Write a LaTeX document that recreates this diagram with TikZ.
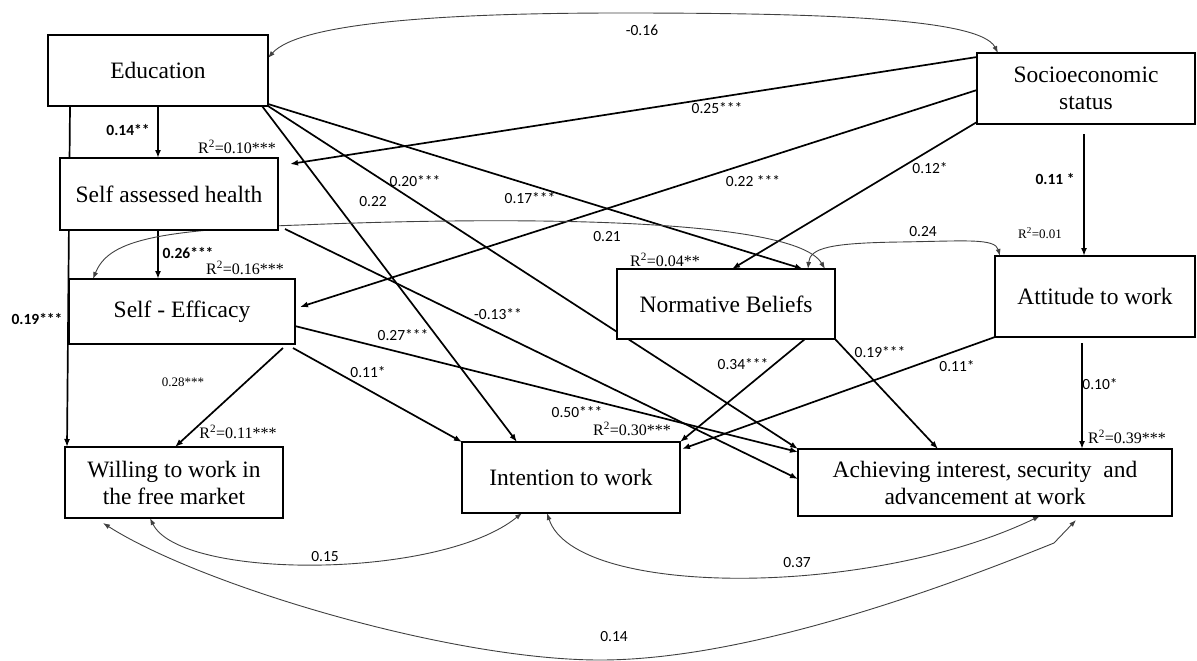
\documentclass[tikz,border=0pt]{standalone}
\usepackage{fontspec}
\setmainfont{Liberation Serif}
\newfontfamily\lblfont{Carlito}
\usetikzlibrary{arrows.meta,calc}
\pgfdeclarelayer{bg}
\pgfsetlayers{bg,main}
\begin{document}
\begin{tikzpicture}[x=1pt,y=-1pt,
  box/.style={draw,line width=1.8pt,fill=white,inner sep=0pt,outer sep=0pt,align=center,font=\fontsize{23.5}{27}\selectfont},
  arr/.style={line width=1.7pt,-{Latex[length=8pt,width=6pt]}},
  corr/.style={line width=0.9pt,draw=black!75,{Latex[length=7pt,width=5pt]}-{Latex[length=7pt,width=5pt]}},
  lbl/.style={font=\lblfont\fontsize{15.5}{18}\selectfont,inner sep=0pt},
  lblb/.style={font=\lblfont\bfseries\fontsize{15.5}{18}\selectfont,inner sep=0pt},
  rsq/.style={font=\fontsize{16}{18}\selectfont,inner sep=0pt},
  rsqs/.style={font=\fontsize{13}{15}\selectfont,inner sep=0pt}]
\useasboundingbox (0,0) rectangle (1197,661);
% boxes
\node[box,minimum width=220pt,minimum height=71pt] (edu) at (158,70.5) {Education};
\node[box,minimum width=218pt,minimum height=71pt] (ses) at (1086,88.5) {Socioeconomic\\status};
\node[box,minimum width=218pt,minimum height=72pt] (sah) at (169,194) {Self assessed health};
\node[box,minimum width=226pt,minimum height=65pt] (se) at (182,311.5) {Self - Efficacy};
\node[box,minimum width=218pt,minimum height=70pt] (nb) at (726,304) {Normative Beliefs};
\node[box,minimum width=200pt,minimum height=81pt] (att) at (1095,296.5) {Attitude to work};
\node[box,minimum width=218pt,minimum height=71pt] (will) at (174,482.5) {Willing to work in\\the free market};
\node[box,minimum width=218pt,minimum height=71pt] (int) at (571,477.5) {Intention to work};
\node[box,minimum width=374pt,minimum height=67pt] (ach) at (985,482.5) {Achieving interest, security\ \ and\\advancement at work};
\coordinate (s1) at ([xshift=-2pt]ses.south);
\coordinate (s2) at ([xshift=-11pt]sah.south);
\coordinate (s3) at ([xshift=-13pt,yshift=-6pt]att.south);
\begin{pgfonlayer}{bg}
\draw[arr] (edu.south) -- (edu.south |- sah.north);
\draw[arr] ([xshift=-88pt]edu.south) -- ([xshift=-107pt]will.north);
\draw[arr] ([xshift=104pt]edu.south) -- ([xshift=-54pt]int.north);
\draw[arr] (edu.south east) -- (ach.north west);
\draw[arr] ([yshift=2pt]edu.south east) -- ([xshift=77pt]nb.north);
\draw[arr] ([yshift=31.5pt]ses.west) -- ([xshift=12pt,yshift=30pt]sah.east);
\draw[arr] ([yshift=-1.5pt]ses.west) -- ([xshift=5pt,yshift=4.5pt]se.east);
\draw[arr] ([yshift=2pt]ses.south west) -- ([xshift=6pt]nb.north);
\draw[arr] ([yshift=-10pt]s1) -- (s1 |- att.north);
\draw[arr] (s2) -- (s2 |- se.north);
\draw[arr] ([xshift=7pt,yshift=1pt]sah.south east) -- ([yshift=3.5pt]ach.west);
\draw[arr] ([xshift=-12pt,yshift=-4pt]se.south east) -- ([xshift=1pt]will.north);
\draw[arr] ([xshift=-2pt,yshift=-4pt]se.south east) -- (int.north west);
\draw[arr] ([yshift=-14.5pt]se.east) -- ([yshift=-3pt]ach.north west);
\draw[arr] ([xshift=79pt]nb.south) -- (int.north east);
\draw[arr] (nb.south east) -- ([xshift=-47pt]ach.north);
\draw[arr] (att.south west) -- ([xshift=2pt,yshift=-7pt]int.north east);
\draw[arr] (s3) -- (s3 |- ach.north);
% correlations
\draw[corr] ([yshift=12.5pt]edu.east) .. controls (300,22) and (450,13) .. (620,13) .. controls (820,13) and (980,18) .. ([xshift=-88pt]ses.north);
\draw[corr] ([xshift=-89pt]se.north) .. controls (108,242) and (150,230) .. (300,225) .. controls (520,216) and (795,218) .. ([xshift=99pt]nb.north);
\draw[corr] ([xshift=82pt]nb.north) .. controls (810,248) and (830,243) .. (900,242) .. controls (965,241) and (995,238) .. ([xshift=5pt]att.north west);
\draw[corr] ([xshift=-24pt]will.south) .. controls (180,580) and (440,580) .. ([xshift=-49pt]int.south);
\draw[corr] ([xshift=-24pt]int.south) .. controls (575,598) and (870,598) .. ([xshift=55pt]ach.south);
\draw[corr] ([xshift=-71pt,yshift=-5pt]will.south) .. controls (200,585) and (450,660) .. (600,660) .. controls (750,660) and (950,585) .. (1054,543) -- ([xshift=91pt,yshift=-4pt]ach.south);
\end{pgfonlayer}
% labels
\node[lbl] (l1) at (642,30) {-0.16};
\node[lbl] (l2) at (717,108) {0.25***};
\node[lblb] (l3) at (128,130) {0.14**};
\node[rsq] (l4) at (237,147) {R\textsuperscript{2}=0.10***};
\node[lbl] (l5) at (415,181) {0.20***};
\node[lbl] (l6) at (373,202) {0.22};
\node[lbl] (l7) at (530,198) {0.17***};
\node[lbl] (l8) at (753,181) {0.22 ***};
\node[lbl] (l9) at (930,168) {0.12*};
\node[lblb] (l10) at (1055,179) {0.11 *};
\node[lbl] (l11) at (607,237) {0.21};
\node[lbl] (l12) at (923,232) {0.24};
\node[rsqs] (l13) at (1040,233) {R\textsuperscript{2}=0.01};
\node[lblb] (l14) at (188,253) {0.26***};
\node[rsq] (l15) at (245,268) {R\textsuperscript{2}=0.16***};
\node[rsq] (l16) at (665,260) {R\textsuperscript{2}=0.04**};
\node[lblb] (l17) at (37,319) {0.19***};
\node[lbl] (l18) at (498,314) {-0.13**};
\node[lbl] (l19) at (403,335) {0.27***};
\node[lbl] (l20) at (743,364) {0.34***};
\node[lbl] (l21) at (880,352) {0.19***};
\node[lbl] (l22) at (957,366) {0.11*};
\node[rsqs] (l23) at (183,382) {0.28***};
\node[lbl] (l24) at (368,372) {0.11*};
\node[lbl] (l25) at (1100,384) {0.10*};
\node[lbl] (l26) at (577,412) {0.50***};
\node[rsq] (l27) at (632,429) {R\textsuperscript{2}=0.30***};
\node[rsq] (l28) at (238,432) {R\textsuperscript{2}=0.11***};
\node[rsq] (l29) at (1127,437) {R\textsuperscript{2}=0.39***};
\node[lbl] (l30) at (325,557) {0.15};
\node[lbl] (l31) at (797,563) {0.37};
\node[lbl] (l32) at (614,637) {0.14};
\end{tikzpicture}
\end{document}
